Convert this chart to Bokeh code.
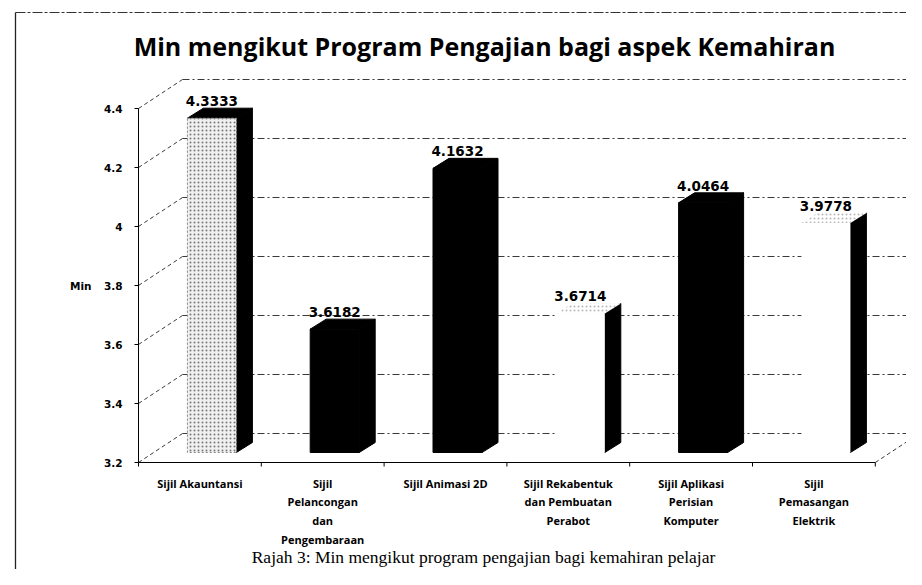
from bokeh.plotting import figure
from bokeh.models import Range1d, Label
from bokeh.core.properties import value
from bokeh.embed import file_html
from bokeh.resources import INLINE

# ---- data ----
categories = ["Sijil Akauntansi", "Sijil\nPelancongan\ndan\nPengembaraan", "Sijil Animasi 2D",
              "Sijil Rekabentuk\ndan Pembuatan\nPerabot", "Sijil Aplikasi\nPerisian\nKomputer",
              "Sijil\nPemasangan\nElektrik"]
values = [4.3333, 3.6182, 4.1632, 3.6714, 4.0464, 3.9778]
value_labels = ["4.3333", "3.6182", "4.1632", "3.6714", "4.0464", "3.9778"]
y_ticks = [3.2, 3.4, 3.6, 3.8, 4.0, 4.2, 4.4]
y_tick_labels = ["3.2", "3.4", "3.6", "3.8", "4", "4.2", "4.4"]
title_text = "Min mengikut Program Pengajian bagi aspek Kemahiran"
y_title = "Min"
caption = "Rajah 3: Min mengikut program pengajian bagi kemahiran pelajar"

# ---- layout (pixel scale of the data space) ----
W, H = 906, 569
CAT_PX = 122.8          # pixels per category
UNIT_PX = 295.0         # pixels per 1.0 of value
AX_X, AX_Y = 138, 462   # pixel position of the axis origin (cat 0, value 3.2)
Y0 = y_ticks[0]
PX = 1.0 / CAT_PX
PY = 1.0 / UNIT_PX

def X(fx):  # pixel -> data x
    return (fx - AX_X) * PX

def Y(fy):  # pixel (from top) -> data y
    return Y0 + (AX_Y - fy) * PY

p = figure(width=W, height=H, output_backend="svg", toolbar_location=None,
           x_range=Range1d(X(0), X(W)), y_range=Range1d(Y(H), Y(0)),
           x_axis_location=None, y_axis_location=None, min_border=0)
p.grid.visible = False
p.outline_line_color = None
p.background_fill_color = "white"

n = len(categories)
grid_col = "#3a3a3a"
dash = "7 3 2 3"
BDX, BDY = 44 * PX, 29 * PY      # back wall depth
right_end = X(W) + 1

# chart border (scan box)
p.segment(x0=[X(15)], y0=[Y(12)], x1=[X(15)], y1=[Y(H + 2)], line_color="#222", line_width=1.3)
p.segment(x0=[X(15)], y0=[Y(12)], x1=[right_end], y1=[Y(12)], line_color="#333", line_width=1,
          line_dash="10 2 3 2")

# back wall gridlines
p.segment(x0=[BDX] * len(y_ticks), y0=[t + BDY for t in y_ticks],
          x1=[right_end] * len(y_ticks), y1=[t + BDY for t in y_ticks],
          line_color=grid_col, line_width=1, line_dash=dash)
# left wall diagonals
p.segment(x0=[0] * len(y_ticks), y0=y_ticks, x1=[BDX] * len(y_ticks), y1=[t + BDY for t in y_ticks],
          line_color=grid_col, line_width=1, line_dash="4 3")
# floor right edge
p.segment(x0=[n], y0=[Y0], x1=[n + BDX], y1=[Y0 + BDY], line_color=grid_col, line_width=1, line_dash="4 3")

# axes
p.segment(x0=[0], y0=[Y0], x1=[0], y1=[y_ticks[-1]], line_color="black", line_width=1)
p.segment(x0=[-4 * PX] * len(y_ticks), y0=y_ticks, x1=[0] * len(y_ticks), y1=y_ticks,
          line_color="black", line_width=1)
p.segment(x0=[0], y0=[Y0], x1=[n], y1=[Y0], line_color="black", line_width=1.2)
p.segment(x0=list(range(n + 1)), y0=[Y0] * (n + 1), x1=list(range(n + 1)), y1=[Y0 - 4 * PY] * (n + 1),
          line_color="black", line_width=1)

p.text(x=[-16 * PX] * len(y_ticks), y=y_ticks, text=y_tick_labels, text_align="right",
       text_baseline="middle", text_font=value("DejaVu Sans"), text_font_style="bold",
       text_font_size="10.5px", text_color="black")
p.text(x=[-47 * PX], y=[3.8], text=[y_title], text_align="right", text_baseline="middle",
       text_font=value("DejaVu Sans"), text_font_style="bold", text_font_size="10.5px", text_color="black")

# ---- 3D bars ----
FX, FY = 12 * PX, 10 * PY      # front face shift
HW = 24.5 * PX                 # half width of front face
SDX, SDY = 16 * PX, 10 * PY    # side depth
front_styles = ["stipple", "black", "black", "white", "black", "white"]

for i, v in enumerate(values):
    cx = i + 0.5 + FX
    l, r = cx - HW, cx + HW
    b, t = Y0 + FY, v + FY
    st = front_styles[i]
    # side face
    p.patch(x=[r, r + SDX, r + SDX, r], y=[b, b + SDY, t + SDY, t], fill_color="black", line_color="black")
    # top face
    if st == "white":
        p.patch(x=[l, r, r + SDX, l + SDX], y=[t, t, t + SDY, t + SDY], fill_color="white",
                line_color=None, hatch_pattern=".", hatch_color="#888", hatch_scale=4, hatch_alpha=0.6)
    else:
        p.patch(x=[l, r, r + SDX, l + SDX], y=[t, t, t + SDY, t + SDY], fill_color="black", line_color="black")
    # front face
    if st == "black":
        p.quad(left=[l], right=[r], bottom=[b], top=[t], fill_color="black", line_color="black")
    elif st == "stipple":
        p.quad(left=[l], right=[r], bottom=[b], top=[t], fill_color="#f0f0f0", line_color="#888",
               line_dash="2 2", hatch_pattern=".", hatch_color="#444", hatch_scale=4, hatch_alpha=0.7)
    else:
        p.quad(left=[l], right=[r], bottom=[b], top=[t], fill_color="white", line_color=None)

# value labels
p.text(x=[i + 0.5 + FX for i in range(n)], y=[v + FY + SDY + 2 * PY for v in values], text=value_labels,
       text_align="center", text_baseline="bottom", text_font=value("DejaVu Sans"),
       text_font_style="bold", text_font_size="13.5px", text_color="black")

# category labels
p.text(x=[i + 0.5 for i in range(n)], y=[Y0 - 13 * PY] * n, text=categories, text_align="center",
       text_baseline="top", text_font=value("Open Sans"), text_font_style="bold",
       text_font_size="11px", text_line_height=1.25, text_color="black")

# title and caption
p.add_layout(Label(x=X(484), y=Y(45), text=title_text, text_align="center", text_baseline="middle",
                   text_font="Open Sans", text_font_style="bold", text_font_size="25px", text_color="black"))
p.add_layout(Label(x=X(483), y=Y(556), text=caption, text_align="center", text_baseline="middle",
                   text_font="Liberation Serif", text_font_size="17.5px", text_color="black"))

open("out.html", "w").write(file_html(p, INLINE))
